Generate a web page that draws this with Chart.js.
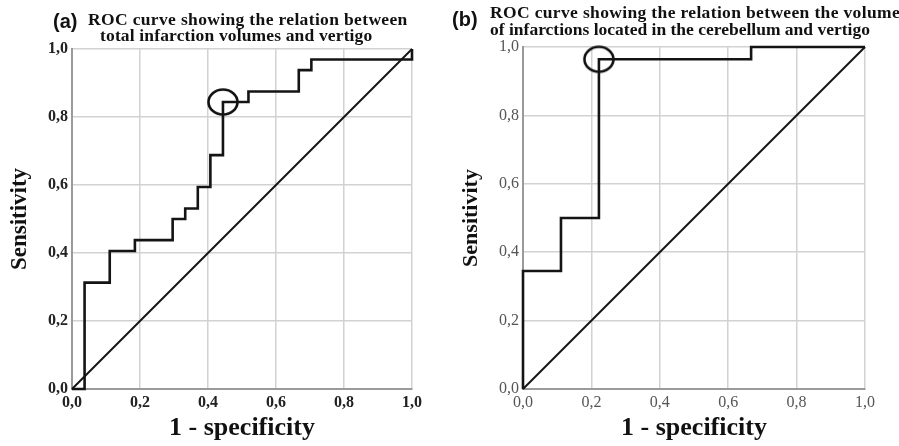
<!DOCTYPE html>
<html>
<head>
<meta charset="utf-8">
<script src="https://cdn.jsdelivr.net/npm/chart.js@4.4.0/dist/chart.umd.min.js"></script>
<style>
  html, body { margin: 0; padding: 0; background: #fff; }
  #wrap { position: relative; width: 899px; height: 446px; overflow: hidden; }
  .box { position: absolute; top: 0; height: 446px; }
  .tag { position: absolute; font: bold 20px "Liberation Sans", Arial, sans-serif; color: #111; line-height: 1; }
  .ttl { position: absolute; font: bold 17.5px "Liberation Serif", "Times New Roman", serif; letter-spacing: 0.35px; color: #111; white-space: nowrap; line-height: 1; }
</style>
</head>
<body>
<div id="wrap">
  <div class="box" style="left:0;width:450px"><canvas id="rocA" width="450" height="446"></canvas></div>
  <div class="box" style="left:450px;width:449px"><canvas id="rocB" width="449" height="446"></canvas></div>

  <div class="tag" style="left:53px;top:11px">(a)</div>
  <div class="ttl" style="left:88px;top:11px">ROC curve showing the relation between</div>
  <div class="ttl" style="left:100px;top:27px;letter-spacing:0.15px">total infarction volumes and vertigo</div>

  <div class="tag" style="left:452px;top:9px">(b)</div>
  <div class="ttl" style="left:490px;top:4px">ROC curve showing the relation between the volume</div>
  <div class="ttl" style="left:490px;top:21px;letter-spacing:0">of infarctions located in the cerebellum and vertigo</div>
</div>
<script>
// axis ticks (both panels)
var tickValues = [0, 0.2, 0.4, 0.6, 0.8, 1.0];

// (a) total infarction volume
var fprA = [0, 0.037, 0.111, 0.185, 0.296, 0.333, 0.370, 0.407, 0.444, 0.519, 0.667, 0.704, 1.0];
var tprA = [0, 0.313, 0.406, 0.438, 0.500, 0.531, 0.594, 0.688, 0.844, 0.875, 0.938, 0.969, 1.0];
var cutA = [0.444, 0.844];

// (b) cerebellar infarction volume
var fprB = [0, 0, 0.111, 0.222, 0.667, 1.0];
var tprB = [0, 0.345, 0.500, 0.964, 1.0, 1.0];
var cutB = [0.222, 0.964];

// reference diagonal
var refX = [0, 1];
var refY = [0, 1];

var SERIF = '"Liberation Serif", "Times New Roman", serif';

function pts(xs, ys) {
    return xs.map(function (x, i) { return { x: x, y: ys[i] }; });
}

function fmt(v) {
    return v.toFixed(1).replace(".", ",");
}

// open ellipse used to mark the chosen cut-off
function ringImage() {
    var c = document.createElement("canvas");
    c.width = 34; c.height = 30;
    var g = c.getContext("2d");
    g.lineWidth = 2.6;
    g.strokeStyle = "#111";
    g.beginPath();
    g.ellipse(17, 15, 14.5, 12.5, 0, 0, Math.PI * 2);
    g.stroke();
    return c;
}

function makeChart(id, fpr, tpr, cut, cfg) {
    var ctx = document.getElementById(id).getContext("2d");
    return new Chart(ctx, {
        type: "scatter",
        data: {
            datasets: [{
                data: pts(fpr, tpr),
                showLine: true,
                stepped: true,
                borderColor: "#141414",
                borderWidth: 2.6,
                pointRadius: 0,
                fill: false,
                clip: false
            }, {
                data: pts(refX, refY),
                showLine: true,
                borderColor: "#141414",
                borderWidth: 2,
                pointRadius: 0,
                fill: false,
                clip: false
            }, {
                data: [{ x: cut[0], y: cut[1] }],
                showLine: false,
                pointStyle: ringImage(),
                clip: false
            }]
        },
        options: {
            responsive: false,
            animation: false,
            layout: { padding: { top: cfg.top, right: cfg.right, left: 0, bottom: 0 } },
            plugins: { legend: { display: false }, tooltip: { enabled: false } },
            scales: {
                x: {
                    type: "linear",
                    min: 0,
                    max: 1,
                    afterBuildTicks: function (s) { s.ticks = tickValues.map(function (v) { return { value: v }; }); },
                    afterFit: function (s) { s.height = 57; },
                    ticks: { callback: fmt, font: cfg.tickFont, color: cfg.tickColor, padding: 4, maxRotation: 0 },
                    grid: { color: "#d2d2d2", lineWidth: 1.5, drawTicks: false },
                    border: { color: "#9a9a9a", width: 2 },
                    title: {
                        display: true,
                        text: "1 - specificity",
                        font: { family: SERIF, size: 26, weight: "bold" },
                        color: "#111",
                        padding: { top: 0, bottom: 2 }
                    }
                },
                y: {
                    type: "linear",
                    min: 0,
                    max: 1,
                    afterBuildTicks: function (s) { s.ticks = tickValues.map(function (v) { return { value: v }; }); },
                    afterFit: function (s) { s.width = cfg.left; },
                    ticks: { callback: fmt, font: cfg.tickFont, color: cfg.tickColor, padding: 4 },
                    grid: { color: "#d2d2d2", lineWidth: 1.5, drawTicks: false },
                    border: { color: "#9a9a9a", width: 2 },
                    title: {
                        display: true,
                        text: "Sensitivity",
                        font: { family: SERIF, size: cfg.ySize, weight: "bold" },
                        color: "#111",
                        padding: { top: cfg.yPad, bottom: 0 }
                    }
                }
            }
        }
    });
}

makeChart("rocA", fprA, tprA, cutA, {
    top: 49, right: 38, left: 72, ySize: 23, yPad: 6,
    tickFont: { family: SERIF, size: 16, weight: "bold" }, tickColor: "#222"
});
makeChart("rocB", fprB, tprB, cutB, {
    top: 47, right: 34, left: 73, ySize: 22, yPad: 8,
    tickFont: { family: SERIF, size: 16, weight: "normal" }, tickColor: "#555"
});
</script>
</body>
</html>
